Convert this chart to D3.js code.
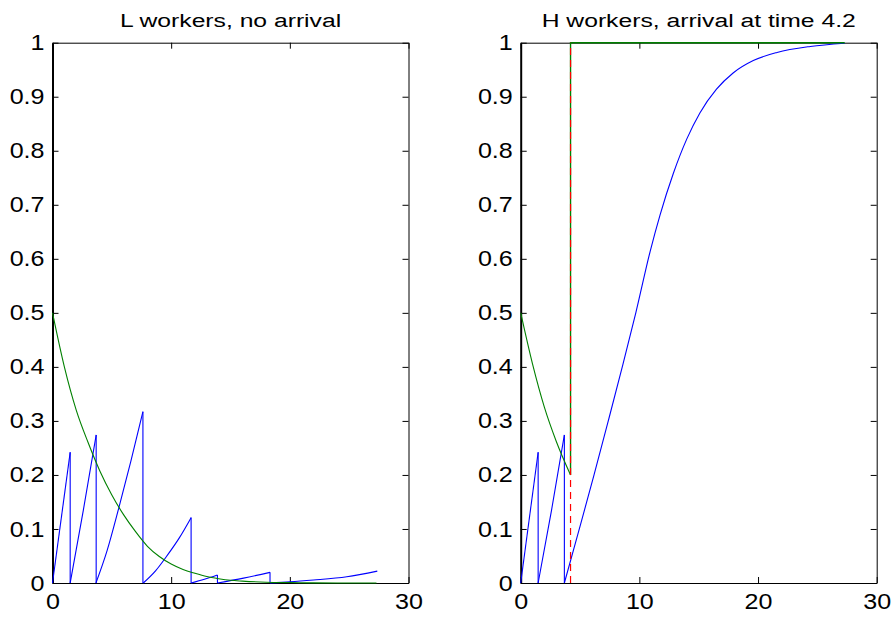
<!DOCTYPE html>
<html>
<head>
<meta charset="utf-8">
<script src="https://cdn.jsdelivr.net/npm/d3@7"></script>
<style>
  body { margin: 0; background: #fff; }
  svg text { font-family: "Liberation Sans", Arial, Helvetica, sans-serif; fill: #000; }
</style>
</head>
<body>
<div id="chart-area"></div>
<script>
// tick values
var timeTicks = [0, 10, 20, 30];
var probTicks = [0, 0.1, 0.2, 0.3, 0.4, 0.5, 0.6, 0.7, 0.8, 0.9, 1];

var leftTitle = "L workers, no arrival";
var rightTitle = "H workers, arrival at time 4.2";
var arrivalTime = 4.2;

// blue sawtooth, one array per tooth: [time, value]
var leftBlueTeeth = [
  [[0, 0], [1.49, 0.242]],
  [[1.49, 0], [2.6, 0.135], [3.68, 0.274]],
  [[3.66, 0], [4.6, 0.06], [5.6, 0.14], [6.6, 0.225], [7.62, 0.317]],
  [[7.65, 0], [8.7, 0.023], [9.7, 0.052], [10.7, 0.084], [11.68, 0.121]],
  [[11.68, 0], [12.8, 0.007], [13.9, 0.015]],
  [[13.9, 0], [16.1, 0.009], [18.33, 0.0197]],
  [[18.33, 0], [20, 0.002], [22, 0.0055], [24.8, 0.0117], [27.37, 0.022]]
];

var leftGreen = [
  [0, 0.5], [1, 0.40], [2, 0.32], [3, 0.26], [4, 0.207], [5, 0.163], [6, 0.126],
  [7, 0.095], [8, 0.068], [9, 0.049], [10, 0.035], [11, 0.025], [12, 0.018],
  [13, 0.012], [14, 0.008], [15, 0.005], [16, 0.0035], [18, 0.0015], [20, 0.0008],
  [22, 0.0003], [24, 0.0001], [27.3, 0]
];

var rightBlueTeeth = [
  [[0, 0], [1.47, 0.242]],
  [[1.47, 0], [2.6, 0.135], [3.68, 0.274]],
  [[3.68, 0], [4.94, 0.1], [6.18, 0.2], [7.38, 0.3], [8.56, 0.4], [9.7, 0.5],
   [10.9, 0.613], [11.74, 0.681], [12.86, 0.758], [14.0, 0.822], [15.1, 0.870],
   [16.5, 0.914], [17.9, 0.944], [19.6, 0.967], [21.6, 0.982], [24.4, 0.993], [27.3, 0.999]]
];

var rightGreenDecay = [
  [0, 0.5], [1, 0.405], [2, 0.325], [3, 0.262], [4.2, 0.2]
];
var rightGreenAfter = [[4.2, 0.2], [4.2, 1], [27.3, 1]];

var width = 894;
var height = 618;

var svg = d3.select("#chart-area")
  .append("svg")
  .attr("width", width)
  .attr("height", height);

function drawPanel(x0, x1, title, teeth, greenSmooth, greenStraight, arrival) {
  var yTop = 42.7, yBottom = 583;

  var x = d3.scaleLinear().domain([0, 30]).range([x0, x1]);
  var y = d3.scaleLinear().domain([0, 1]).range([yBottom, yTop]);

  var g = svg.append("g");

  // left axis with labels
  var leftAxis = d3.axisLeft(y).tickValues(probTicks).tickSizeInner(-6).tickSizeOuter(0).tickPadding(7)
    .tickFormat(d3.format("~g"));
  var la = g.append("g")
    .attr("transform", "translate(" + x0 + ",0)")
    .call(leftAxis);
  la.select(".domain").attr("stroke-width", 2);

  var bottomAxis = d3.axisBottom(x).tickValues(timeTicks).tickSizeInner(-6).tickSizeOuter(0).tickPadding(10);
  var ba = g.append("g")
    .attr("transform", "translate(0," + yBottom + ")")
    .call(bottomAxis);

  g.append("g")
    .attr("transform", "translate(" + x1 + ",0)")
    .call(d3.axisRight(y).tickValues(probTicks).tickSizeInner(-6).tickSizeOuter(0).tickFormat(""));
  g.append("g")
    .attr("transform", "translate(0," + yTop + ")")
    .call(d3.axisTop(x).tickValues(timeTicks).tickSizeInner(-6).tickSizeOuter(0).tickFormat(""));

  g.selectAll(".domain").attr("stroke", "#000");
  g.selectAll(".tick line").attr("stroke", "#000");
  [la, ba].forEach(function(a) {
    a.attr("font-size", 22).attr("font-family", null);
    a.selectAll("text").attr("transform", "scale(1.14,1)");
  });

  // title
  g.append("text")
    .attr("transform", "translate(" + ((x0 + x1) / 2) + ",27) scale(1.3,1)")
    .attr("text-anchor", "middle")
    .attr("font-size", "19px")
    .text(title);

  var smooth = d3.line().x(d => x(d[0])).y(d => y(d[1])).curve(d3.curveMonotoneX);
  var straight = d3.line().x(d => x(d[0])).y(d => y(d[1]));

  // blue teeth and drops
  teeth.forEach(function(t, i) {
    g.append("path")
      .attr("d", smooth(t))
      .attr("fill", "none")
      .attr("stroke", "#0000ff")
      .attr("stroke-width", 1.1);
    if (i < teeth.length - 1) {
      var end = t[t.length - 1];
      g.append("path")
        .attr("d", straight([end, [end[0], 0]]))
        .attr("fill", "none")
        .attr("stroke", "#0000ff")
        .attr("stroke-width", 1.1);
    }
  });

  // green
  g.append("path")
    .attr("d", smooth(greenSmooth))
    .attr("fill", "none")
    .attr("stroke", "#008000")
    .attr("stroke-width", 1.1);
  if (greenStraight) {
    g.append("path")
      .attr("d", straight(greenStraight))
      .attr("fill", "none")
      .attr("stroke", "#008000")
      .attr("stroke-width", 1.4);
  }

  // arrival marker
  if (arrival != null) {
    g.append("path")
      .attr("d", straight([[arrival, 0], [arrival, 1]]))
      .attr("fill", "none")
      .attr("stroke", "#ff0000")
      .attr("stroke-width", 1.2)
      .attr("stroke-dasharray", "7,5");
  }
}

drawPanel(52.5, 408.5, leftTitle, leftBlueTeeth, leftGreen, null, null);
drawPanel(520.7, 876.7, rightTitle, rightBlueTeeth, rightGreenDecay, rightGreenAfter, arrivalTime);
</script>
</body>
</html>
